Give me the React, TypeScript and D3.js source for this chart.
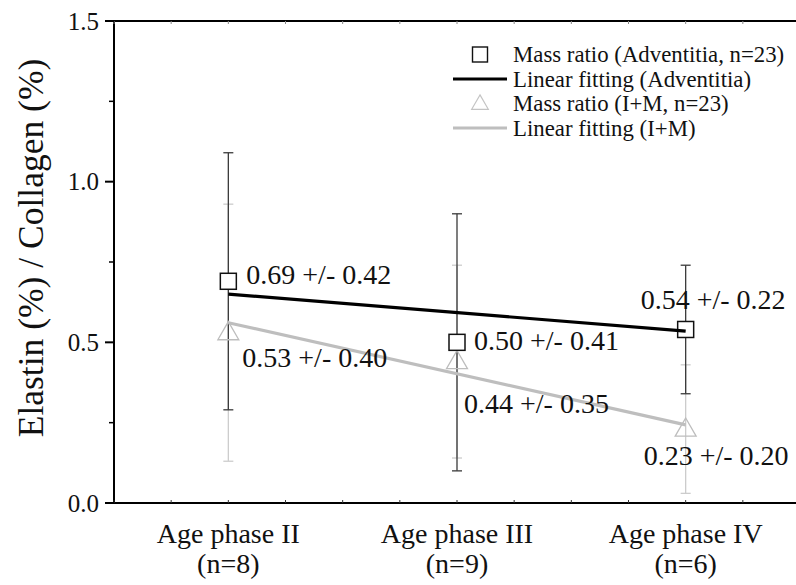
import React, { useRef, useEffect } from 'react';
import * as d3 from 'd3';

// data
const categories = ['Age phase II', 'Age phase III', 'Age phase IV'];
const nLabels = ['(n=8)', '(n=9)', '(n=6)'];
const categoryPos = [1, 3, 5];

const advMean = [0.69, 0.5, 0.54];
const advErr = [0.4, 0.4, 0.2];
const advText = ['0.69 +/- 0.42', '0.50 +/- 0.41', '0.54 +/- 0.22'];

const imMean = [0.53, 0.44, 0.23];
const imErr = [0.4, 0.3, 0.2];
const imText = ['0.53 +/- 0.40', '0.44 +/- 0.35', '0.23 +/- 0.20'];

// linear fits, value at first and last category
const fitX = [1, 5];
const fitAdv = [0.65, 0.535];
const fitIM = [0.561, 0.243];

const yTicks = [0, 0.5, 1.0, 1.5];
const yMinor = [0.25, 0.75, 1.25];
const xMinor = d3.range(0, 6.01, 0.5);

// label offsets from their points (px)
const advOffset = [[18, 3], [17, 8], [-45, -20]];
const imOffset = [[14, 34], [7, 51], [-42, 36]];

const FONT = '"Liberation Serif", "Times New Roman", serif';
const BLACK = '#000';

const App: React.FC = () => {
  const svgRef = useRef<SVGSVGElement>(null);

  useEffect(() => {
    document.body.style.margin = '0';
    if (!svgRef.current) return;
    const svg = d3.select(svgRef.current);
    svg.selectAll('*').remove();

    const left = 114, top = 21, bottom = 503, right = 800;
    const x = d3.scaleLinear().domain([0, 6]).range([left, right]);
    const y = d3.scaleLinear().domain([0, 1.5]).range([bottom, top]);

    const g = svg.append('g').attr('font-family', FONT);

    // frame lines
    g.append('line').attr('x1', left).attr('x2', 796).attr('y1', top).attr('y2', top)
      .attr('stroke', BLACK).attr('stroke-width', 2);
    g.append('line').attr('x1', left).attr('x2', 796).attr('y1', bottom).attr('y2', bottom)
      .attr('stroke', BLACK).attr('stroke-width', 2);
    g.append('line').attr('x1', left).attr('x2', left).attr('y1', top).attr('y2', bottom)
      .attr('stroke', BLACK).attr('stroke-width', 2);

    // x minor ticks (inward) on top and bottom
    xMinor.forEach(v => {
      g.append('line').attr('x1', x(v)).attr('x2', x(v)).attr('y1', bottom).attr('y2', bottom - 3)
        .attr('stroke', '#333').attr('stroke-width', 1);
      g.append('line').attr('x1', x(v)).attr('x2', x(v)).attr('y1', top).attr('y2', top + 3)
        .attr('stroke', '#888').attr('stroke-width', 1);
    });

    // y ticks
    yTicks.forEach(v => {
      g.append('line').attr('x1', left - 9).attr('x2', left).attr('y1', y(v)).attr('y2', y(v))
        .attr('stroke', BLACK).attr('stroke-width', 2);
      g.append('text').attr('x', 99).attr('y', y(v)).attr('dy', '0.34em')
        .attr('text-anchor', 'end').attr('font-size', 25).attr('fill', '#111')
        .text(d3.format('.1f')(v));
    });
    yMinor.forEach(v => {
      g.append('line').attr('x1', left - 5).attr('x2', left).attr('y1', y(v)).attr('y2', y(v))
        .attr('stroke', BLACK).attr('stroke-width', 1.5);
    });

    // y title
    g.append('text').attr('transform', `translate(43,${248}) rotate(-90)`)
      .attr('text-anchor', 'middle').attr('font-size', 35.5).attr('fill', '#111')
      .text('Elastin (%) / Collagen (%)');

    // x category labels
    categories.forEach((c, i) => {
      g.append('text').attr('x', x(categoryPos[i])).attr('y', 543)
        .attr('text-anchor', 'middle').attr('font-size', 28).attr('fill', '#111').text(c);
      g.append('text').attr('x', x(categoryPos[i])).attr('y', 573)
        .attr('text-anchor', 'middle').attr('font-size', 28).attr('fill', '#111').text(nLabels[i]);
    });

    const errBars = (mean: number[], err: number[], color: string, w: number) => {
      mean.forEach((m, i) => {
        const cx = x(categoryPos[i]);
        g.append('line').attr('x1', cx).attr('x2', cx).attr('y1', y(m - err[i])).attr('y2', y(m + err[i]))
          .attr('stroke', color).attr('stroke-width', w);
        [m - err[i], m + err[i]].forEach(v => {
          g.append('line').attr('x1', cx - 5).attr('x2', cx + 5).attr('y1', y(v)).attr('y2', y(v))
            .attr('stroke', color).attr('stroke-width', w);
        });
      });
    };
    errBars(imMean, imErr, '#cccccc', 1.3);
    errBars(advMean, advErr, '#3a3a3a', 1.3);

    const tri = d3.symbol().type(d3.symbolTriangle).size(190);
    const triSmall = d3.symbol().type(d3.symbolTriangle).size(120);

    // markers
    imMean.forEach((m, i) => {
      g.append('path').attr('d', tri()!)
        .attr('transform', `translate(${x(categoryPos[i])},${y(m) + 1})`)
        .attr('fill', 'none').attr('stroke', '#bdbdbd').attr('stroke-width', 1.3);
    });
    advMean.forEach((m, i) => {
      g.append('rect').attr('x', x(categoryPos[i]) - 8).attr('y', y(m) - 8)
        .attr('width', 16).attr('height', 16)
        .attr('fill', '#fff').attr('stroke', '#111').attr('stroke-width', 1.5);
    });

    // linear fits
    const line = d3.line<number>().x((_, i) => x(fitX[i])).y(d => y(d));
    g.append('path').attr('d', line(fitIM)!).attr('fill', 'none')
      .attr('stroke', '#bebebe').attr('stroke-width', 3.2);
    g.append('path').attr('d', line(fitAdv)!).attr('fill', 'none')
      .attr('stroke', BLACK).attr('stroke-width', 3.2);

    // value labels
    advMean.forEach((m, i) => {
      g.append('text').attr('x', x(categoryPos[i]) + advOffset[i][0]).attr('y', y(m) + advOffset[i][1])
        .attr('font-size', 28).attr('fill', '#111').text(advText[i]);
    });
    imMean.forEach((m, i) => {
      g.append('text').attr('x', x(categoryPos[i]) + imOffset[i][0]).attr('y', y(m) + imOffset[i][1])
        .attr('font-size', 28).attr('fill', '#111').text(imText[i]);
    });

    // legend
    const lg = g.append('g').attr('transform', 'translate(453,0)');
    const rows = [
      { label: 'Mass ratio (Adventitia, n=23)', kind: 'square' },
      { label: 'Linear fitting (Adventitia)', kind: 'line', color: BLACK },
      { label: 'Mass ratio (I+M, n=23)', kind: 'triangle' },
      { label: 'Linear fitting (I+M)', kind: 'line', color: '#bebebe' },
    ];
    rows.forEach((r, i) => {
      const cy = 54.5 + i * 24.5;
      if (r.kind === 'square') {
        lg.append('rect').attr('x', 27 - 7.5).attr('y', cy - 7.5).attr('width', 15).attr('height', 15)
          .attr('fill', '#fff').attr('stroke', '#111').attr('stroke-width', 1.4);
      } else if (r.kind === 'triangle') {
        lg.append('path').attr('d', triSmall()!).attr('transform', `translate(27,${cy + 1})`)
          .attr('fill', 'none').attr('stroke', '#c4c4c4').attr('stroke-width', 1.2);
      } else {
        lg.append('line').attr('x1', 0).attr('x2', 54).attr('y1', cy).attr('y2', cy)
          .attr('stroke', r.color!).attr('stroke-width', 3);
      }
      lg.append('text').attr('x', 60).attr('y', cy + 7.5).attr('font-size', 22.8).attr('fill', '#111')
        .text(r.label);
    });
  }, []);

  return <svg ref={svgRef} width={796} height={585} style={{ display: 'block', background: '#fff' }} />;
};

export default App;
